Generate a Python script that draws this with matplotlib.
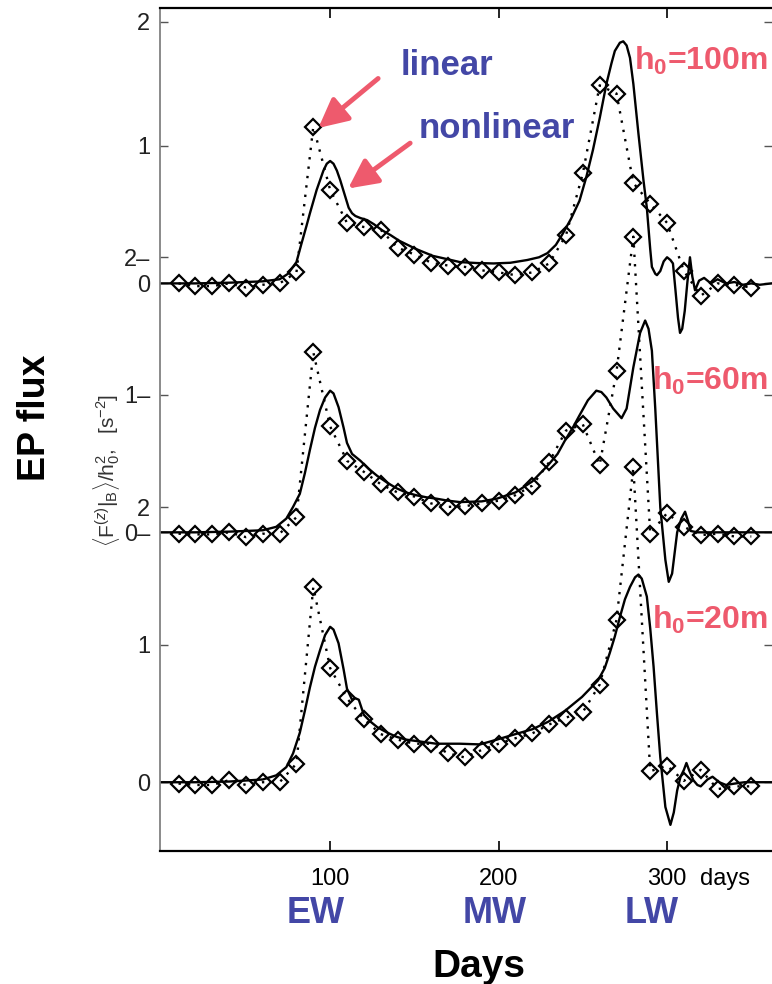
import matplotlib
matplotlib.use("Agg")
import matplotlib.pyplot as plt
import numpy as np

plt.rcParams['font.family'] = ['Liberation Sans', 'DejaVu Sans']
plt.rcParams['mathtext.fontset'] = 'custom'
plt.rcParams['mathtext.rm'] = 'Liberation Sans'
plt.rcParams['mathtext.it'] = 'Liberation Sans:italic'
plt.rcParams['mathtext.bf'] = 'Liberation Sans:bold'

# Linear runs: sampled every 10 days
lin_days = list(range(10, 351, 10))
lin_100 = [0, -0.02, -0.02, 0, -0.03, -0.01, 0, 0.08, 1.14, 0.68, 0.44, 0.41, 0.39, 0.26, 0.21, 0.15, 0.13,
           0.12, 0.095, 0.08, 0.06, 0.08, 0.145, 0.35, 0.80, 1.44, 1.38, 0.73, 0.58, 0.44, 0.09, -0.09, 0, -0.01, -0.03]
lin_60 = [-0.01, -0.015, -0.015, 0, -0.035, -0.01, -0.01, 0.11, 1.31, 0.77, 0.52, 0.44, 0.35, 0.29, 0.26, 0.21, 0.185,
          0.19, 0.21, 0.23, 0.27, 0.34, 0.51, 0.74, 0.785, 0.49, 1.17, 2.15, -0.01, 0.14, 0.04, -0.02, -0.01, -0.03, -0.03]
lin_20 = [-0.01, -0.02, -0.02, 0.015, -0.02, 0, 0, 0.135, 1.42, 0.83, 0.61, 0.46, 0.35, 0.31, 0.28, 0.28, 0.21,
          0.18, 0.235, 0.28, 0.32, 0.355, 0.42, 0.47, 0.51, 0.71, 1.18, 2.29, 0.08, 0.12, 0.01, 0.09, -0.05, -0.03, -0.03]

# Nonlinear runs
nl_days_100 = [0, 20, 40, 60, 70, 75, 80, 83, 86, 88, 92, 96, 98, 100, 102, 104, 106, 109, 111, 113, 115, 118,
               122, 126, 131, 136, 141, 146, 151, 156, 161, 170, 177, 187, 197, 207, 217, 224, 229, 234, 238,
               243, 248, 252, 256, 260, 264, 267, 269, 272, 274, 276, 278, 280, 283, 286, 288, 290, 291, 293,
               294, 296, 298, 300, 302, 303.5, 305, 306.5, 307.7, 309, 310.5, 312, 313.6, 315, 316.6, 319, 322,
               326, 330, 335, 340, 345, 350, 355, 362]
nl_100 = [0, 0, 0.005, 0.015, 0.03, 0.07, 0.155, 0.29, 0.42, 0.51, 0.68, 0.82, 0.87, 0.89, 0.87, 0.82, 0.75,
          0.63, 0.55, 0.51, 0.49, 0.475, 0.46, 0.43, 0.385, 0.35, 0.31, 0.28, 0.25, 0.225, 0.20, 0.175, 0.155,
          0.148, 0.145, 0.15, 0.17, 0.19, 0.22, 0.28, 0.36, 0.47, 0.60, 0.77, 0.97, 1.2, 1.45, 1.6, 1.69, 1.75,
          1.76, 1.73, 1.64, 1.45, 1.09, 0.75, 0.55, 0.25, 0.12, 0.07, 0.06, 0.09, 0.16, 0.19, 0.17, 0.145,
          -0.05, -0.25, -0.36, -0.33, -0.2, 0.0, 0.19, 0.05, -0.05, 0.02, 0.04, 0.0, 0.03, 0.0, 0.01, -0.01,
          0.0, -0.01, 0.0]

nl_days_60 = [0, 20, 40, 60, 68, 74, 78, 82, 85, 88, 91, 94, 97, 100, 102, 105, 108, 110, 113, 118, 123, 128,
              134, 139.5, 145, 151, 157, 163, 170, 177, 190, 199, 210, 220, 229.5, 235, 239.5, 244, 248, 253,
              258, 261, 264, 268, 273, 276, 280, 284, 287, 289, 291, 293, 296, 299, 301, 303, 306, 308.5,
              310.7, 312.5, 314, 318, 330, 345, 362]
nl_60 = [0, 0, 0.005, 0.015, 0.04, 0.1, 0.185, 0.28, 0.43, 0.60, 0.76, 0.89, 0.98, 1.03, 1.01, 0.91, 0.76,
         0.65, 0.57, 0.52, 0.46, 0.41, 0.36, 0.32, 0.29, 0.27, 0.255, 0.245, 0.23, 0.22, 0.225, 0.245, 0.29,
         0.37, 0.49, 0.57, 0.67, 0.76, 0.85, 0.96, 1.03, 1.02, 0.98, 0.9, 0.83, 0.9, 1.2, 1.45, 1.54, 1.48,
         1.32, 0.9, 0.18, -0.2, -0.36, -0.3, 0.0, 0.1, 0.15, 0.08, 0.01, 0.0, 0.0, 0.0, 0.0]

nl_days_20 = [0, 20, 40, 60, 68, 74, 78, 82, 85, 88, 91, 94, 97, 100, 102, 105, 108, 110, 113, 115, 117, 120,
              124, 128, 134, 139.5, 145, 151, 157, 163, 170, 177, 189, 199, 210, 220, 229.5, 239.5, 249.5, 259,
              263, 266, 269, 272, 275, 278, 281, 283, 285, 288, 290, 292, 294, 296, 299, 302, 304, 306, 308,
              310, 311.5, 313, 315.6, 318, 320, 324, 327, 331, 335, 340, 346, 362]
nl_20 = [0, 0, 0.005, 0.02, 0.05, 0.11, 0.21, 0.36, 0.52, 0.69, 0.84, 0.96, 1.07, 1.13, 1.11, 1.01, 0.82,
         0.68, 0.60, 0.61, 0.60, 0.49, 0.44, 0.40, 0.36, 0.33, 0.31, 0.30, 0.29, 0.28, 0.28, 0.28, 0.275,
         0.31, 0.35, 0.385, 0.44, 0.52, 0.62, 0.74, 0.83, 0.94, 1.06, 1.20, 1.33, 1.42, 1.49, 1.51, 1.48,
         1.35, 1.12, 0.84, 0.5, 0.18, -0.18, -0.31, -0.22, -0.06, 0.04, 0.09, 0.14, 0.09, 0.015, -0.02,
         -0.03, 0.02, 0.04, 0.0, -0.02, -0.01, 0.0, 0.0]

heights = ['100m', '60m', '20m']
offsets = [3.627, 1.817, 0.0]
panels = [(nl_days_100, nl_100, lin_100), (nl_days_60, nl_60, lin_60), (nl_days_20, nl_20, lin_20)]

blue = '#4347A6'
red = '#EE5A6D'

W, H = 772, 984
fig = plt.figure(figsize=(W / 100, H / 100), dpi=100)
ax = fig.add_axes([160 / W, 1 - 851 / H, 1 - 160 / W, (851 - 7.5) / H])

for (nd, nv, lv), off in zip(panels, offsets):
    ax.plot(lin_days, np.array(lv) + off, color='black', lw=1.7, linestyle=(0, (1, 3)))
    ax.plot(lin_days, np.array(lv) + off, linestyle='none', marker='D', markersize=8.5,
            markerfacecolor='none', markeredgecolor='black', markeredgewidth=1.6)
    ax.plot(nd, np.array(nv) + off, color='black', lw=1.7)

ax.set_xlim(-1, 362.3)
ax.set_ylim(-0.5, 5.633)

# stacked y axes: 0, 1, 2 for each panel
yt = []
yl = []
for off, lab in zip(offsets, ['', '–', '']):
    for v in (0, 1, 2):
        yt.append(off + v)
        yl.append(f'{v}{lab}')
yt[2] = 5.53  # top label sits just below the frame
ax.set_yticks(yt, yl)
ax.set_xticks([100, 200, 300], ['100', '200', '300'])
ax.tick_params(axis='y', direction='in', length=6, width=1, labelsize=17, labelcolor='#222222',
               pad=7, right=True, color='#555555')
ax.tick_params(axis='x', direction='in', length=7, width=1.2, labelsize=17, pad=12, top=True)
ax.spines['right'].set_visible(False)
ax.spines['left'].set_color('#777777')
ax.spines['left'].set_linewidth(1.2)
for s in ('top', 'bottom'):
    ax.spines[s].set_linewidth(1.6)

fig.text(700 / W, 1 - 885 / H, 'days', fontsize=17, va='baseline', ha='left')

# panel labels
for h, base in zip(heights, [70, 390, 629]):
    fig.text(768 / W, 1 - base / H, r'h$_\mathbf{0}$=' + h, color=red, fontsize=23,
             fontweight='bold', ha='right', va='baseline')

fig.text(447 / W, 1 - 75 / H, 'linear', color=blue, fontsize=25, fontweight='bold',
         ha='center', va='baseline')
fig.text(497 / W, 1 - 138 / H, 'nonlinear', color=blue, fontsize=25, fontweight='bold',
         ha='center', va='baseline')

arrow = dict(arrowstyle='-|>', color=red, lw=3.5, mutation_scale=44, shrinkA=0, shrinkB=0)
ax.annotate('', xy=(93, offsets[0] + 1.13), xytext=(128.5, offsets[0] + 1.49), arrowprops=arrow)
ax.annotate('', xy=(110.7, offsets[0] + 0.69), xytext=(147.5, offsets[0] + 1.02), arrowprops=arrow)

for name, xc in zip(['EW', 'MW', 'LW'], [316, 495, 652]):
    fig.text(xc / W, 1 - 923 / H, name, color=blue, fontsize=26, fontweight='bold',
             ha='center', va='baseline')
fig.text(479 / W, 1 - 977 / H, 'Days', fontsize=28, fontweight='bold', ha='center', va='baseline')

fig.text(35 / W, 1 - 418 / H, 'EP flux', fontsize=27, fontweight='bold', rotation=90,
         ha='center', va='center')
fig.text(107 / W, 1 - 470 / H, r'$\langle \mathrm{F}^{(z)}|_\mathrm{B}\rangle/\mathrm{h}_0^2,\ \ [\mathrm{s}^{-2}]$',
         fontsize=15, color='#333333', rotation=90, ha='center', va='center')

fig.savefig('out.png', dpi=100)
